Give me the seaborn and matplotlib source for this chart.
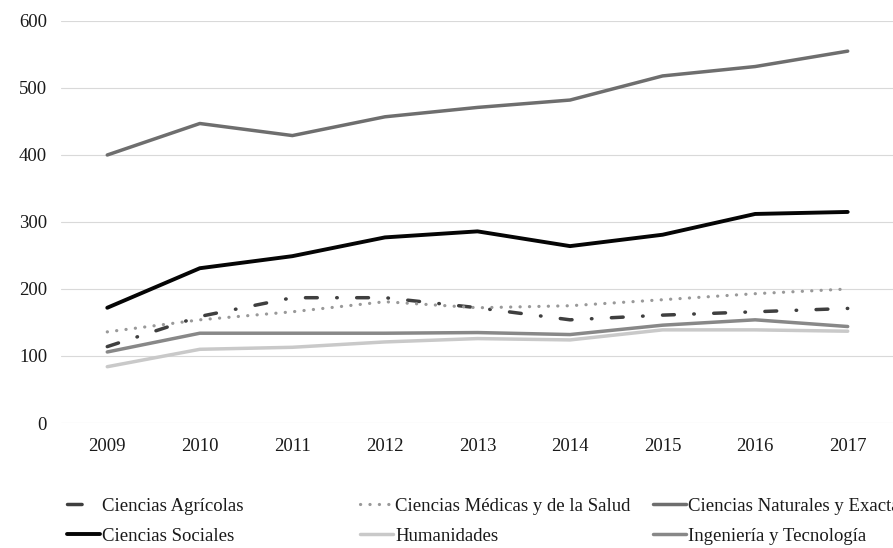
import pandas as pd
import matplotlib
matplotlib.use('Agg')
import matplotlib.pyplot as plt
import seaborn as sns

# Estilo base
sns.set_style('white')
plt.rcParams['font.family'] = ['Liberation Serif', 'DejaVu Serif']

# 1. Datos
anios = [2009, 2010, 2011, 2012, 2013, 2014, 2015, 2016, 2017]

agricolas = [114, 159, 187, 187, 172, 154, 161, 166, 171]
medicas = [136, 154, 166, 181, 172, 175, 184, 193, 200]
naturales = [400, 447, 429, 457, 471, 482, 518, 532, 555]
sociales = [172, 231, 249, 277, 286, 264, 281, 312, 315]
humanidades = [84, 110, 113, 121, 126, 124, 139, 139, 137]
ingenieria = [106, 134, 134, 134, 135, 132, 146, 154, 144]

areas = ['Ciencias Agrícolas', 'Ciencias Médicas y de la Salud',
         'Ciencias Naturales y Exactas', 'Ciencias Sociales',
         'Humanidades', 'Ingeniería y Tecnología']
valores = [agricolas, medicas, naturales, sociales, humanidades, ingenieria]

df = pd.DataFrame({
    'Año': anios * len(areas),
    'Area': [a for a in areas for _ in anios],
    'Valor': [v for serie in valores for v in serie],
})

# estilo de cada serie: color, grosor, patrón de línea
estilos = {
    'Ciencias Agrícolas': ('#3f3f3f', 2.5, (0, (3.4, 5.6, 0.15, 5.6))),
    'Ciencias Médicas y de la Salud': ('#999999', 2.3, (0, (0.05, 2.9))),
    'Ciencias Naturales y Exactas': ('#6e6e6e', 2.5, '-'),
    'Ciencias Sociales': ('#050505', 2.8, '-'),
    'Humanidades': ('#c9c9c9', 2.5, '-'),
    'Ingeniería y Tecnología': ('#888888', 2.5, '-'),
}

# 2. Gráfico
fig = plt.figure(figsize=(8.93, 5.48), dpi=100)
ax = fig.add_axes([0.0683, 0.2281, 0.9328, 0.7336])

handles = {}
for area in areas:
    color, lw, ls = estilos[area]
    sns.lineplot(data=df[df['Area'] == area], x='Año', y='Valor', ax=ax,
                 color=color, linewidth=lw, linestyle=ls, label=area,
                 solid_capstyle='round', dash_capstyle='round',
                 solid_joinstyle='round', legend=False)
    handles[area] = ax.lines[-1]

ax.set_xlim(2008.5, 2017.5)
ax.set_ylim(0, 600)
ax.set_xticks(anios)
ax.set_yticks(range(0, 601, 100))
ax.set_xlabel('')
ax.set_ylabel('')
ax.grid(axis='y', color='#d9d9d9', linewidth=0.8)
ax.set_axisbelow(True)
sns.despine(ax=ax, left=True, bottom=True)
ax.tick_params(axis='both', length=0, labelsize=13.5, colors='#1a1a1a')
ax.tick_params(axis='x', pad=11)
ax.tick_params(axis='y', pad=10)

# 3. Leyenda en tres columnas
columnas = [
    ['Ciencias Agrícolas', 'Ciencias Sociales'],
    ['Ciencias Médicas y de la Salud', 'Humanidades'],
    ['Ciencias Naturales y Exactas', 'Ingeniería y Tecnología'],
]
x_cols = [0.075, 0.403, 0.731]
for x0, col in zip(x_cols, columnas):
    leg = fig.legend([handles[a] for a in col], col, loc='center left',
                     bbox_to_anchor=(x0, 0.049), frameon=False, fontsize=13.5,
                     handlelength=1.78, handletextpad=0.1, labelspacing=0.7,
                     borderpad=0, borderaxespad=0, labelcolor='#1a1a1a')
    if col[0] == 'Ciencias Agrícolas':
        # en la leyenda original solo se ve un trazo corto
        leg.get_lines()[0].set_linestyle((0, (4.2, 20)))

plt.savefig('out.png', dpi=100)
